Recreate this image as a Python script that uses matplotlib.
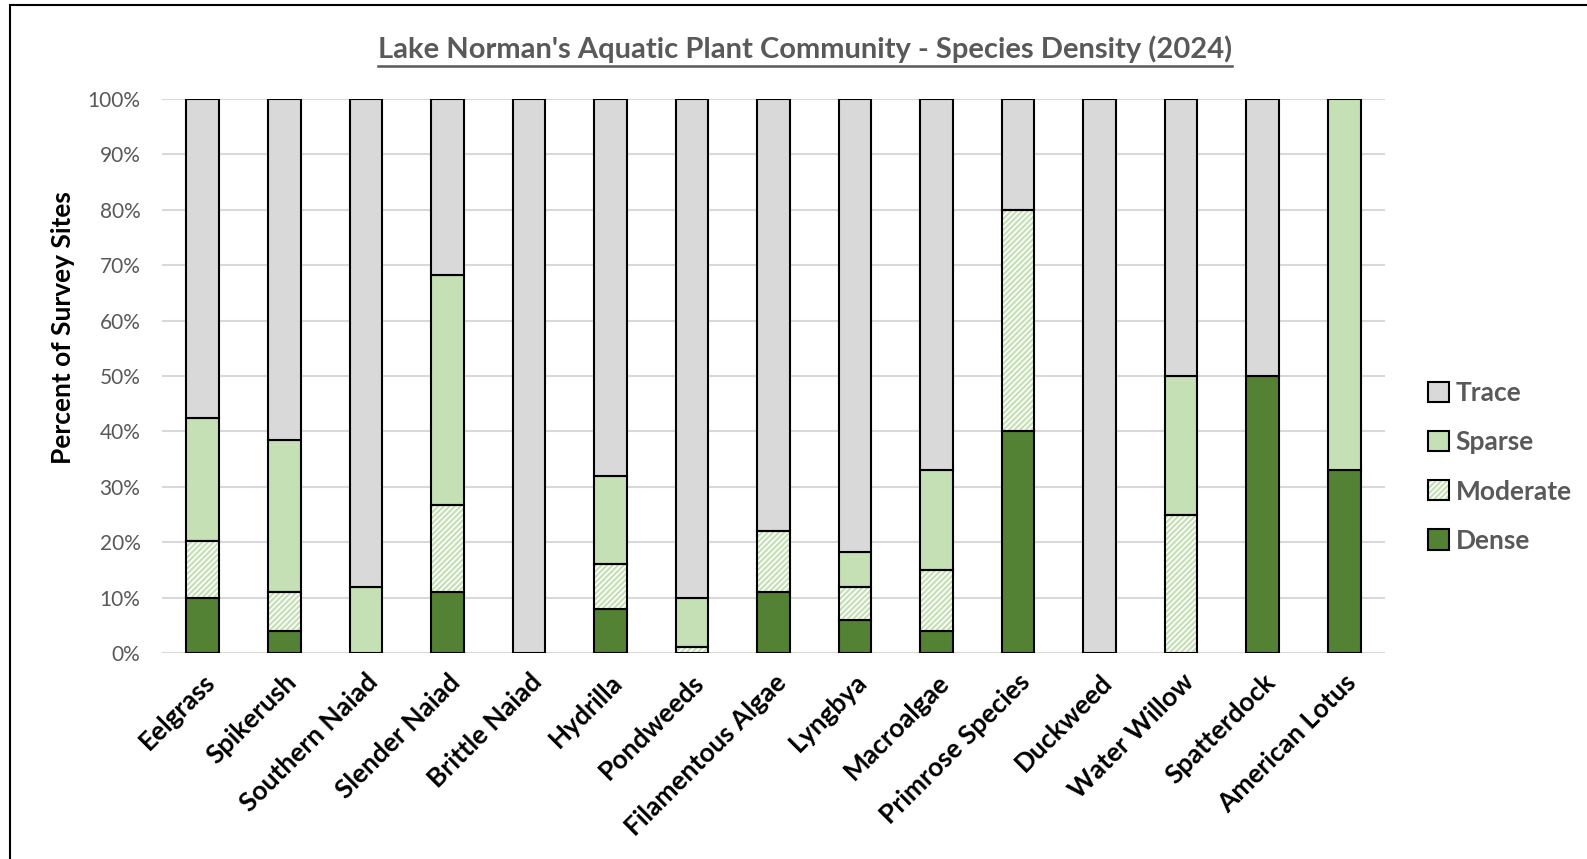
import numpy as np
import matplotlib.pyplot as plt
from matplotlib.patches import Patch, Rectangle
from matplotlib.legend_handler import HandlerTuple

plt.rcParams['font.family'] = ['Lato', 'DejaVu Sans']
plt.rcParams['hatch.linewidth'] = 1.6

species = ["Eelgrass", "Spikerush", "Southern Naiad", "Slender Naiad", "Brittle Naiad",
           "Hydrilla", "Pondweeds", "Filamentous Algae", "Lyngbya", "Macroalgae",
           "Primrose Species", "Duckweed", "Water Willow", "Spatterdock", "American Lotus"]
dense = [10, 4, 0, 11, 0, 8, 0, 11, 6, 4, 40, 0, 0, 50, 33]
moderate = [10.2, 7, 0, 15.8, 0, 8, 1, 11, 6, 11, 40, 0, 25, 0, 0]
sparse = [22.2, 27.4, 12, 41.5, 0, 16, 9, 0, 6.2, 18, 0, 0, 25, 0, 67]
trace = [57.6, 61.6, 88, 31.7, 100, 68, 90, 78, 81.8, 67, 20, 100, 50, 50, 0]

c_trace = "#D9D9D9"
c_sparse = "#C5E0B4"
c_dense = "#548235"

fig = plt.figure(figsize=(15.87, 8.59), dpi=100)
ax = fig.add_axes([162 / 1587, 1 - 653 / 859, (1385 - 162) / 1587, (653 - 99) / 859])

x = np.arange(len(species))
w = 0.4
d = np.array(dense)
m = np.array(moderate)
s = np.array(sparse)
t = np.array(trace)


def lw(h):
    return np.where(h > 0, 1.5, 0)


ax.bar(x, d, w, color=c_dense, edgecolor="black", linewidth=lw(d), zorder=3)
# moderate: hatch in light green, outline in black drawn on top
ax.bar(x, m, w, bottom=d, color="white", edgecolor=c_sparse, hatch="//////", linewidth=0, zorder=3)
ax.bar(x, m, w, bottom=d, color="none", edgecolor="black", linewidth=lw(m), zorder=4)
ax.bar(x, s, w, bottom=d + m, color=c_sparse, edgecolor="black", linewidth=lw(s), zorder=3)
ax.bar(x, t, w, bottom=d + m + s, color=c_trace, edgecolor="black", linewidth=lw(t), zorder=3)

ax.set_xlim(-0.5, len(species) - 0.5)
ax.set_ylim(0, 100)
ax.set_yticks(np.arange(0, 101, 10))
ax.set_yticklabels([f"{v}%" for v in range(0, 101, 10)], color="#595959", fontsize=15)
ax.yaxis.grid(True, color="#D9D9D9", linewidth=1.5, zorder=0)
ax.set_axisbelow(True)
for sp in ax.spines.values():
    sp.set_visible(False)
ax.tick_params(axis="both", length=0)
ax.tick_params(axis="y", pad=15.5)
ax.set_xticks(x)
ax.set_xticklabels(species, rotation=45, ha="right", rotation_mode="anchor",
                   fontsize=19, fontweight="bold", color="black")
ax.tick_params(axis="x", pad=12)
ax.set_ylabel("Percent of Survey Sites", fontsize=19, fontweight="bold", va="center")
ax.yaxis.set_label_coords(-0.081, 0.587)

title = fig.text(805 / 1587, 1 - 49 / 859, "Lake Norman's Aquatic Plant Community - Species Density (2024)",
                 ha="center", va="center", fontsize=21, fontweight="bold", color="#595959")

hatched = (Patch(facecolor="white", edgecolor=c_sparse, hatch="//////", linewidth=0),
           Patch(facecolor="none", edgecolor="black", linewidth=1.5))
handles = [Patch(facecolor=c_trace, edgecolor="black", linewidth=1.5),
           Patch(facecolor=c_sparse, edgecolor="black", linewidth=1.5),
           hatched,
           Patch(facecolor=c_dense, edgecolor="black", linewidth=1.5)]
labels = ["Trace", "Sparse", "Moderate", "Dense"]
leg = fig.legend(handles, labels, loc="center left", bbox_to_anchor=(1428 / 1587, 1 - 467 / 859),
                 frameon=False, fontsize=19, handlelength=0.8, handleheight=0.8,
                 handletextpad=0.25, labelspacing=0.95, borderaxespad=0, borderpad=0,
                 handler_map={tuple: HandlerTuple(ndivide=1, pad=0)})
for txt in leg.get_texts():
    txt.set_color("#595959")
    txt.set_fontweight("bold")

# underline under the title text
fig.canvas.draw()
bb = title.get_window_extent().transformed(fig.transFigure.inverted())
fig.add_artist(plt.Line2D([bb.x0, bb.x1], [bb.y0 - 0.004, bb.y0 - 0.004],
                          color="#595959", linewidth=1.8))

fig.add_artist(Rectangle((10 / 1587, -0.1), 1.2, 1 - 5 / 859 + 0.1, transform=fig.transFigure,
                         fill=False, edgecolor="black", linewidth=1.5))

fig.savefig("out.png", dpi=100)
